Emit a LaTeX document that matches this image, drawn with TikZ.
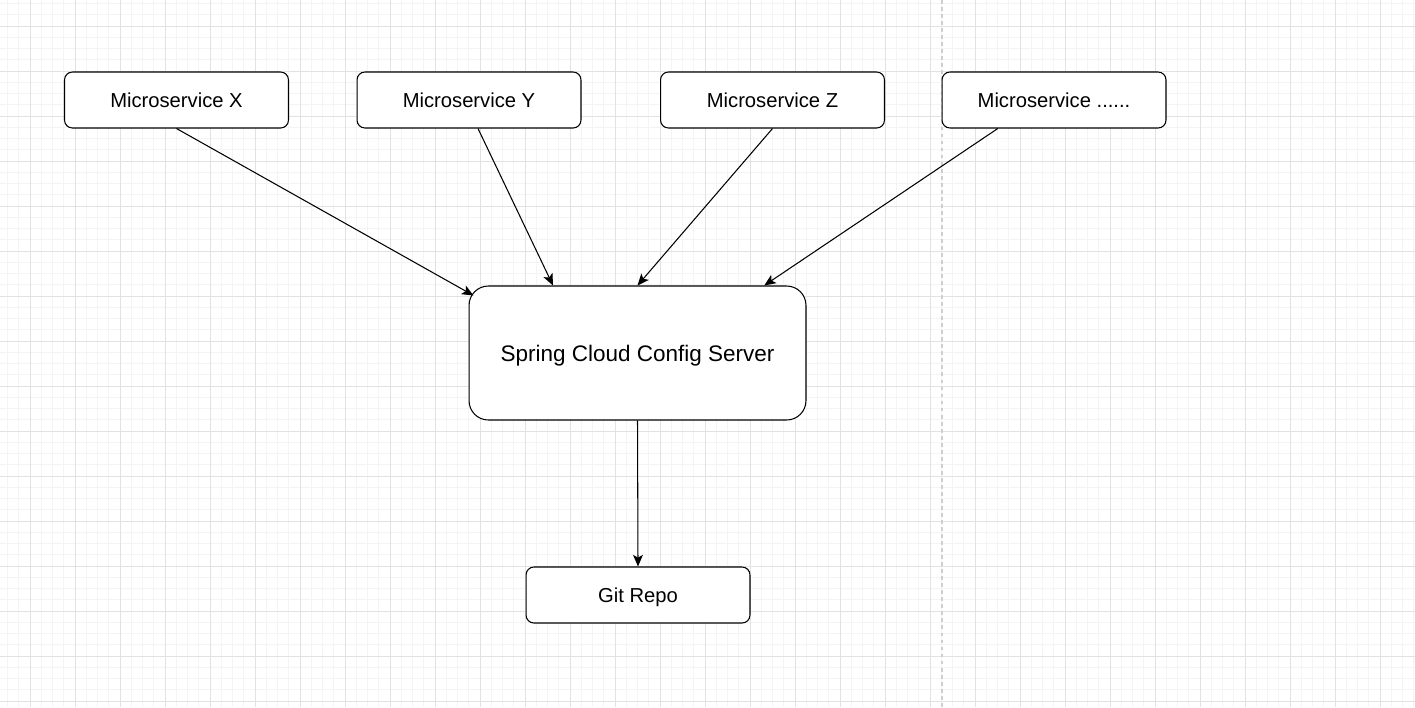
\documentclass[tikz,border=0pt]{standalone}
\usepackage{fontspec}
\setmainfont{Liberation Sans}
\usetikzlibrary{positioning, calc, arrows.meta}
\definecolor{minorgray}{HTML}{F4F4F4}
\definecolor{majorgray}{HTML}{E2E2E2}
\definecolor{sepgray}{HTML}{CFCFCF}

\begin{document}
\begin{tikzpicture}[x=0.02cm, y=-0.02cm,
        service/.style = {draw, rounded corners=4.5pt, line width=0.6pt, fill=white, text depth=0pt,
                          minimum width=4.48cm, minimum height=1.12cm, font=\fontsize{11.5}{13}\selectfont},
        server/.style = {draw, rounded corners=11pt, line width=0.6pt, fill=white, text depth=0pt,
                         minimum width=6.74cm, minimum height=2.68cm, font=\fontsize{12.8}{15}\selectfont},
        link/.style = {line width=0.6pt, -{Stealth[length=6.6pt, width=5.6pt, inset=1.6pt]}}]
    \useasboundingbox (0,0) rectangle (1415,707);
    \fill[white] (0,0) rectangle (1415,707);
    % background grid
    \foreach \i in {0,...,125} \draw[minorgray, line width=0.5pt] ({7.5+11.25*\i},0) -- ++(0,707);
    \foreach \j in {0,...,62} \draw[minorgray, line width=0.5pt] (0,{3.5+11.25*\j}) -- ++(1415,0);
    \foreach \i in {0,...,31} \draw[majorgray, line width=0.5pt] ({30+45*\i},0) -- ++(0,707);
    \foreach \j in {0,...,15} \draw[majorgray, line width=0.5pt] (0,{26+45*\j}) -- ++(1415,0);
    \draw[sepgray, line width=0.6pt, dash pattern=on 2.2pt off 1.8pt] (942,0) -- (942,707);

    \node[service] (msx) at (176.5,100) {Microservice X};
    \node[service] (msy) at (469,100) {Microservice Y};
    \node[service] (msz) at (772.5,100) {Microservice Z};
    \node[service] (msmore) at (1054,100) {Microservice ......};
    \node[server] (config) at (637.5,353) {Spring Cloud Config Server};
    \node[service] (git) at (638,595) {Git Repo};

    \draw[link] (msx.south) -- ($(config.north west)+(5,10)$);
    \draw[link] ($(msy.south west)!0.54!(msy.south east)$) -- ($(config.north west)!0.25!(config.north east)$);
    \draw[link] (msz.south) -- (config.north);
    \draw[link] ($(msmore.south west)!0.25!(msmore.south east)$) -- ($(config.north west)!0.875!(config.north east)$);
    \draw[link] (config.south) -- (git.north);
\end{tikzpicture}
\end{document}
